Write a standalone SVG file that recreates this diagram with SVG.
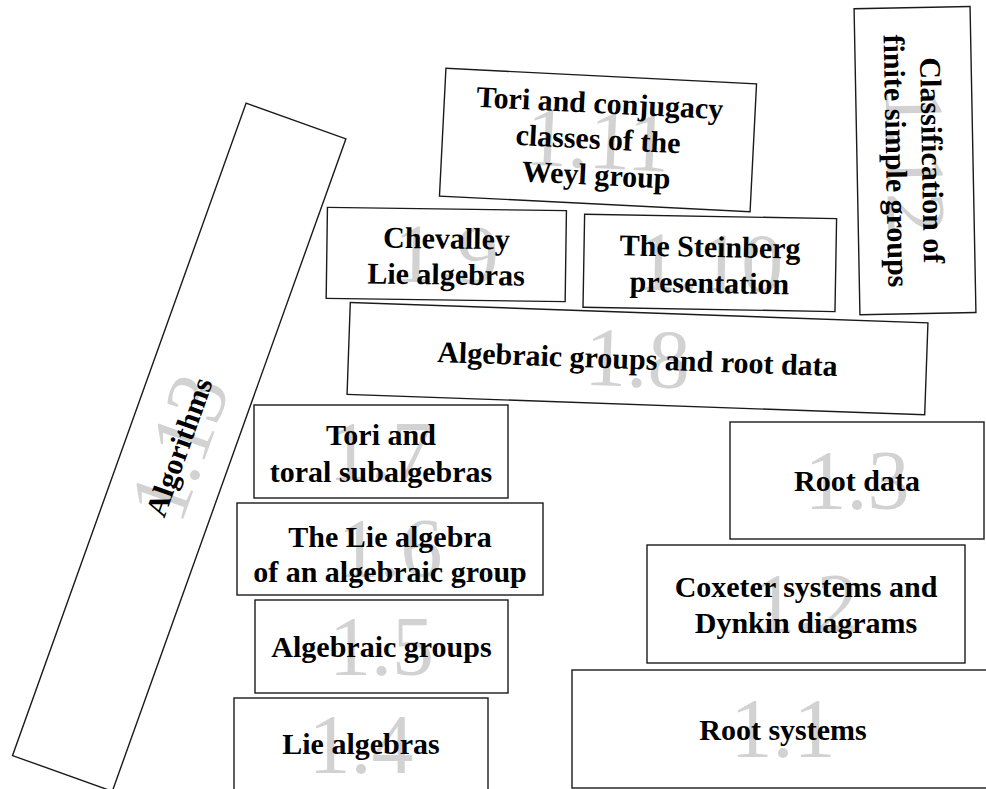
<svg xmlns="http://www.w3.org/2000/svg" width="986" height="789" viewBox="0 0 986 789">
<style>
.box{fill:#fff;stroke:#1a1a1a;stroke-width:1.4}
.lbl{font-family:"Liberation Serif","DejaVu Serif",serif;font-weight:bold;font-size:30px;fill:#000;text-anchor:middle}
.num{font-family:"Liberation Serif","DejaVu Serif",serif;font-size:84px;fill:#d2d2d2;text-anchor:middle}
</style>
<rect width="986" height="789" fill="#fff"/>
<g id="connectors"></g>
<g id="n1_13" transform="translate(179.2,447.2) rotate(-70.3)">
<rect class="box" x="-346.5" y="-53" width="693" height="106"/>
<text class="num" x="0" y="28">1.13</text>
<text class="lbl" x="0" y="10">Algorithms</text>
</g>
<g id="n1_11" transform="translate(598,140) rotate(2.9)">
<rect class="box" x="-155.5" y="-64" width="311" height="128"/>
<text class="num" x="0" y="28">1.11</text>
<text class="lbl" x="0" y="-27">Tori and conjugacy</text>
<text class="lbl" x="0" y="9">classes of the</text>
<text class="lbl" x="0" y="45">Weyl group</text>
</g>
<g id="n1_12" transform="translate(915,160.6) rotate(88.9)">
<rect class="box" x="-153" y="-58" width="306" height="116"/>
<text class="num" x="0" y="28">1.12</text>
<text class="lbl" x="0" y="-7">Classification of</text>
<text class="lbl" x="0" y="29">finite simple groups</text>
</g>
<g id="n1_9" transform="translate(446.3,254.5) rotate(0.8)">
<rect class="box" x="-119.5" y="-45.5" width="239" height="91"/>
<text class="num" x="0" y="28">1.9</text>
<text class="lbl" x="0" y="-6">Chevalley</text>
<text class="lbl" x="0" y="30">Lie algebras</text>
</g>
<g id="n1_10" transform="translate(709.8,262.9) rotate(1.0)">
<rect class="box" x="-126" y="-46.5" width="252" height="93"/>
<text class="num" x="0" y="28">1.10</text>
<text class="lbl" x="0" y="-6">The Steinberg</text>
<text class="lbl" x="0" y="30">presentation</text>
</g>
<g id="n1_8" transform="translate(637.5,358.6) rotate(2.02)">
<rect class="box" x="-289" y="-46" width="578" height="92"/>
<text class="num" x="0" y="28">1.8</text>
<text class="lbl" x="0" y="10.5">Algebraic groups and root data</text>
</g>
<g id="n1_7">
<rect class="box" x="254" y="405" width="254" height="93"/>
<text class="num" x="381" y="479.5">1.7</text>
<text class="lbl" x="381" y="445">Tori and</text>
<text class="lbl" x="381" y="482">toral subalgebras</text>
</g>
<g id="n1_6">
<rect class="box" x="237" y="503" width="306" height="92"/>
<text class="num" x="390" y="577">1.6</text>
<text class="lbl" x="390" y="547">The Lie algebra</text>
<text class="lbl" x="390" y="582">of an algebraic group</text>
</g>
<g id="n1_5">
<rect class="box" x="255" y="600" width="253" height="93"/>
<text class="num" x="381.5" y="674.5">1.5</text>
<text class="lbl" x="381.5" y="657">Algebraic groups</text>
</g>
<g id="n1_4">
<rect class="box" x="234" y="698" width="254" height="93"/>
<text class="num" x="361" y="772.5">1.4</text>
<text class="lbl" x="361" y="754">Lie algebras</text>
</g>
<g id="n1_3">
<rect class="box" x="730" y="422" width="254" height="117"/>
<text class="num" x="857" y="508.5">1.3</text>
<text class="lbl" x="857" y="491">Root data</text>
</g>
<g id="n1_2">
<rect class="box" x="647" y="545" width="318" height="118"/>
<text class="num" x="806" y="632">1.2</text>
<text class="lbl" x="806" y="597">Coxeter systems and</text>
<text class="lbl" x="806" y="633">Dynkin diagrams</text>
</g>
<g id="n1_1">
<rect class="box" x="572" y="670" width="422" height="118"/>
<text class="num" x="783" y="757">1.1</text>
<text class="lbl" x="783" y="740">Root systems</text>
</g>
</svg>
